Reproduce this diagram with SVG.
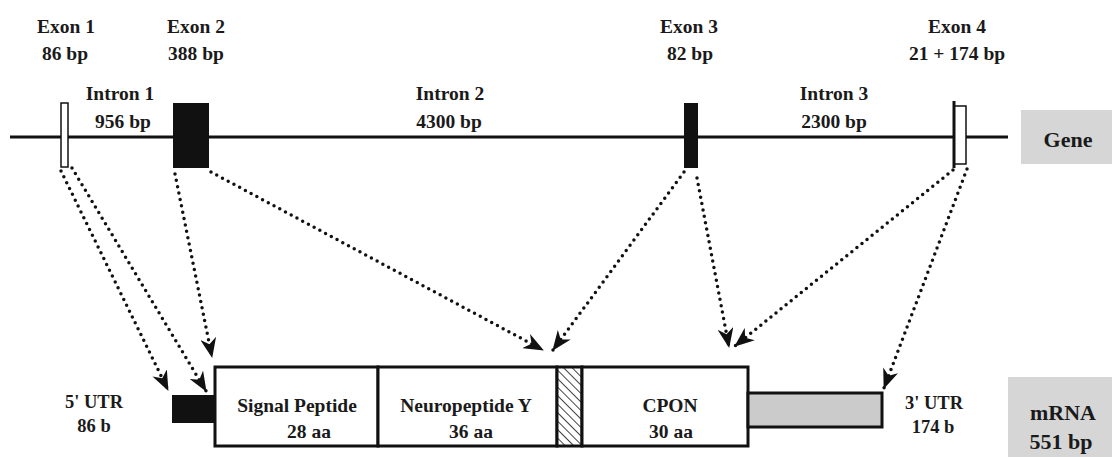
<svg xmlns="http://www.w3.org/2000/svg" width="1112" height="457" viewBox="0 0 1112 457">
<defs>
<style>
text{font-family:"Liberation Serif","Times New Roman",serif;font-weight:bold;font-size:19.5px;fill:#1a1a1a;text-anchor:middle}
.lbl{font-size:22px}
.sm{font-size:18.5px}
.ln{stroke:#111;stroke-width:3;fill:none}
.dot{stroke:#111;stroke-width:3.5;fill:none;stroke-dasharray:0 6.5;stroke-linecap:round;marker-end:url(#arr)}
.box{fill:#fff;stroke:#111;stroke-width:3}
</style>
<marker id="arr" viewBox="0 0 20 16" refX="19" refY="8" markerUnits="userSpaceOnUse" markerWidth="20" markerHeight="16" orient="auto">
<path d="M0,0 L20,8 L0,16 L6,8 Z" fill="#111"/>
</marker>
<pattern id="hatch" patternUnits="userSpaceOnUse" width="6" height="6" patternTransform="rotate(-45)">
<rect width="6" height="6" fill="#fff"/>
<line x1="0" y1="0" x2="0" y2="6" stroke="#444" stroke-width="2"/>
</pattern>
</defs>
<rect width="1112" height="457" fill="#fff"/>

<g id="gene">
<line class="ln" x1="10" y1="137" x2="1008" y2="137"/>
<g id="exon1"><rect x="61" y="103" width="7" height="64" fill="#fff" stroke="#111" stroke-width="1.5"/>
<text x="66" y="33">Exon 1</text><text x="65" y="60">86 bp</text></g>
<g id="exon2"><rect x="173" y="103" width="36" height="65" fill="#111"/>
<text x="196" y="33">Exon 2</text><text x="196" y="60">388 bp</text></g>
<g id="exon3"><rect x="684" y="103" width="14" height="65" fill="#111"/>
<text x="689" y="33">Exon 3</text><text x="690" y="60">82 bp</text></g>
<g id="exon4"><rect x="954" y="106" width="12" height="58" fill="#fff" stroke="#111" stroke-width="1.5"/>
<line x1="954" y1="101" x2="954" y2="168" stroke="#111" stroke-width="3"/>
<text x="957" y="33">Exon 4</text><text x="957" y="60">21 + 174 bp</text></g>
<g id="intron1"><text x="120" y="100">Intron 1</text><text x="123" y="128">956 bp</text></g>
<g id="intron2"><text x="450" y="100">Intron 2</text><text x="449" y="128">4300 bp</text></g>
<g id="intron3"><text x="834" y="100">Intron 3</text><text x="834" y="128">2300 bp</text></g>
<g id="gene-label"><rect x="1021" y="110" width="91" height="54" fill="#d6d6d6"/>
<text class="lbl" x="1068" y="147">Gene</text></g>
</g>

<g id="mrna">
<g id="utr5"><rect x="172" y="395" width="43" height="28" fill="#111"/>
<text class="sm" x="94" y="408">5' UTR</text><text class="sm" x="94" y="432">86 b</text></g>
<g id="signal"><rect class="box" x="215" y="367" width="163" height="79"/>
<text x="297" y="412">Signal Peptide</text><text x="309" y="438">28 aa</text></g>
<g id="npy"><rect class="box" x="378" y="367" width="179" height="79"/>
<text x="466" y="412">Neuropeptide Y</text><text x="471" y="438">36 aa</text></g>
<g id="cleave"><rect x="557" y="367" width="25" height="79" fill="url(#hatch)" stroke="#111" stroke-width="3"/></g>
<g id="cpon"><rect class="box" x="582" y="367" width="166" height="79"/>
<text x="670" y="412">CPON</text><text x="671" y="438">30 aa</text></g>
<g id="utr3"><rect x="748" y="393" width="134" height="34" fill="#cbcbcb" stroke="#111" stroke-width="3"/>
<text class="sm" x="934" y="409">3' UTR</text><text class="sm" x="933" y="433">174 b</text></g>
<g id="mrna-label"><rect x="1008" y="377" width="104" height="80" fill="#d6d6d6"/>
<text class="lbl" x="1063" y="420">mRNA</text><text class="lbl" x="1061" y="449">551 bp</text></g>
</g>

<g id="connectors">
<path class="dot" d="M61,171 L168,390"/>
<path class="dot" d="M72,168 L206,391"/>
<path class="dot" d="M175,174 L212,357"/>
<path class="dot" d="M211,172 L543,350"/>
<path class="dot" d="M684,172 L553,350"/>
<path class="dot" d="M697,178 L729,347"/>
<path class="dot" d="M953,170 L735,346"/>
<path class="dot" d="M967,169 L884,388"/>
</g>
</svg>
